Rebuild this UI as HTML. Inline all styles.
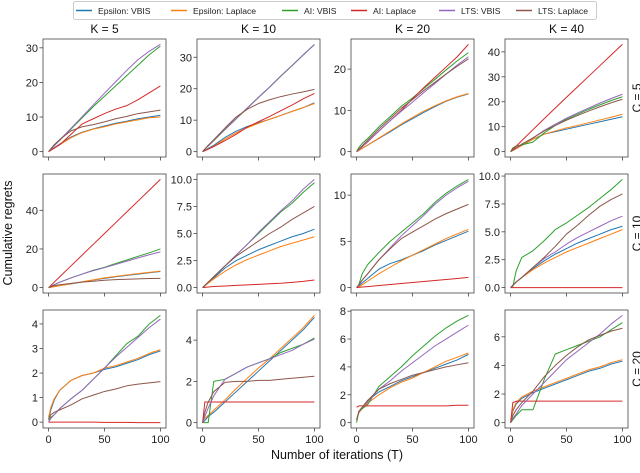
<!DOCTYPE html>
<html><head><meta charset="utf-8"><style>
body{margin:0;background:#fff;}
svg{font-family:"Liberation Sans","DejaVu Sans",sans-serif;}
</style></head><body>
<svg id="c" width="640" height="468" xmlns="http://www.w3.org/2000/svg"></svg>
<script>
const xs = [0,2,5,10,20,30,40,50,60,70,80,90,100];
const seriesNames = ["Epsilon: VBIS","Epsilon: Laplace","AI: VBIS","AI: Laplace","LTS: VBIS","LTS: Laplace"];
const colTitles = ["K = 5","K = 10","K = 20","K = 40"];
const rowTitles = ["C = 5","C = 10","C = 20"];
const xTicks = [0,50,100];
const yTicks = [
 [0,10,20,30],[0,10,20,30],[0,10,20],[0,10,20,30,40],
 [0,20,40],[0,2.5,5,7.5,10],[0,5,10],[0,2.5,5,7.5,10],
 [0,1,2,3,4],[0,2,4],[0,2,4,6,8],[0,2,4,6]
];
const yTickDecimals = [0,0,0,0, 0,1,0,1, 0,0,0,0];
const p11 = [[0,0.5,1.1,2.2,4.2,5.6,6.6,7.4,8.2,8.8,9.5,10,10.5],[0,0.4,1,2,4,5.5,6.5,7.2,8,8.6,9.2,9.8,10],[0,0.7,1.7,3.3,6.5,9.8,13,16,19,22,25,28,30.5],[0,0.4,1,2,5,8,9.5,11,12.3,13.3,15,17,19],[0,0.7,1.7,3.4,6.7,10.1,13.5,16.9,20.2,23.5,26.6,29,31],[0,0.8,2,3.5,6,7.2,7.8,8.6,9.5,10.2,11,11.5,12]];
const p12 = [[0,0.4,1,2,4.5,6.5,8,9.2,10.3,11.5,12.8,14,15.5],[0,0.3,0.8,1.7,4,6,7.6,9,10.3,11.5,12.8,14,15.3],[0,0.8,1.8,3.5,7,10.4,13.8,17.2,20.5,24,27.3,30.7,34],[0,0.3,0.8,1.6,3.5,5.5,7.8,9.5,11.2,13,14.8,16.8,18.5],[0,0.8,1.8,3.6,7.1,10.5,13.9,17.3,20.6,24.1,27.4,30.8,34.1],[0,0.8,2,3.8,7.5,11,13.5,15.3,16.5,17.5,18.3,19,19.8]];
const p13 = [[0,0.3,0.8,1.6,3.2,4.8,6.5,8,9.5,10.9,12.2,13.2,14],[0,0.3,0.8,1.6,3.3,5,6.7,8.3,9.8,11.1,12.3,13.3,14.1],[0,1,2,3.2,6,8.5,11,13,15.3,17.5,19.8,22,24],[0,0.5,1.2,2.4,5,7.5,10,12.8,15.5,18,20.5,23,26],[0,0.5,1.2,2.5,5,7.5,9.8,12,14.3,16.5,18.8,21,23],[0,0.6,1.4,2.8,5.5,8,10.5,12.6,14.8,16.8,18.8,20.7,22.5]];
const p14 = [[0,0.5,1.2,2.5,5,7,8,9,10,11,12,13,14],[0,0.5,1.2,2.5,5,7,8.3,9.5,10.5,11.6,12.7,13.8,15],[0,1.5,2.3,2.7,3.8,7.5,10.5,13,15,17,18.8,20.5,22],[0,0.9,2.2,4.4,8.8,13.2,17.5,21.8,26,30.3,34.5,38.8,43],[0,0.6,1.5,3,5.5,8.5,11,13.4,15.5,17.5,19.5,21.3,23],[0,0.6,1.5,3,5.5,8.3,10.5,12.6,14.5,16.3,18,19.6,21]];
const p21 = [[0,0.2,0.5,1,1.9,2.9,3.9,4.8,5.6,6.3,7,7.7,8.3],[0,0.2,0.5,1,2,3,4,5,5.8,6.5,7.2,7.9,8.5],[0,0.6,1.5,2.8,5,7,9,10.5,12.5,14.3,16.2,18,20],[0,1.1,2.8,5.6,11.2,16.8,22.4,28,33.6,39.2,44.8,50.4,56],[0,0.6,1.5,2.8,5,7,8.8,10.3,12,13.7,15.4,17,18.5],[0,0.5,1,1.5,2.2,2.8,3.3,3.8,4.1,4.3,4.5,4.7,4.8]];
const p22 = [[0,0.2,0.5,0.9,1.8,2.5,3,3.5,3.9,4.3,4.7,5,5.4],[0,0.15,0.4,0.8,1.5,2.1,2.6,3,3.4,3.8,4.1,4.4,4.7],[0,0.2,0.5,1,2,3,4,5,6,7,7.8,8.8,9.7],[0,0.02,0.05,0.1,0.15,0.2,0.25,0.3,0.35,0.4,0.48,0.57,0.7],[0,0.2,0.5,1,2,3,4,5.1,6.1,7.1,8,9.1,10],[0,0.2,0.5,1,2,2.9,3.6,4.3,5,5.6,6.3,6.9,7.5]];
const p23 = [[0,0.2,0.5,1,2,2.6,3,3.5,4,4.6,5.1,5.6,6.1],[0,0.1,0.3,0.7,1.5,2.2,2.9,3.5,4.1,4.7,5.3,5.8,6.3],[0,0.3,1.5,2.5,3.8,5,6,7,8,9.2,10.2,11,11.7],[0,0.02,0.06,0.11,0.22,0.33,0.44,0.55,0.66,0.77,0.88,0.99,1.1],[0,0.3,0.8,1.5,3,4.3,5.6,6.7,7.8,9,10,10.8,11.5],[0,0.3,0.8,1.5,3,4.2,5.3,6,6.7,7.4,8,8.5,9]];
const p24 = [[0,0.2,0.5,0.9,1.7,2.4,3,3.5,4,4.4,4.8,5.2,5.5],[0,0.2,0.5,0.9,1.6,2.2,2.7,3.2,3.6,4,4.4,4.8,5.2],[0,0.1,1.5,2.7,3.3,4.2,5.2,5.8,6.5,7.2,8,8.8,9.7],[0,0,0,0,0,0,0,0,0,0,0,0,0],[0,0.2,0.5,0.9,1.8,2.6,3.2,3.9,4.5,5,5.5,6,6.4],[0,0.2,0.5,0.9,1.8,2.7,3.7,4.8,5.6,6.5,7.3,7.9,8.4]];
const p31 = [[0.1,0.5,0.9,1.3,1.7,1.9,2.0,2.15,2.25,2.4,2.55,2.75,2.9],[0.2,0.6,0.95,1.3,1.7,1.9,2.0,2.2,2.3,2.45,2.6,2.8,2.95],[0,0.2,0.3,0.55,0.95,1.3,1.75,2.2,2.7,3.2,3.5,4,4.35],[0,0,0,0,0,0,0,-0.01,-0.01,-0.01,-0.02,-0.02,-0.02],[0,0.15,0.3,0.55,0.95,1.3,1.75,2.2,2.65,3.05,3.45,3.85,4.2],[0.1,0.3,0.4,0.5,0.7,0.95,1.1,1.25,1.35,1.48,1.55,1.6,1.65]];
const p32 = [[0,0.1,0.3,0.5,1,1.5,2,2.5,3,3.5,4,4.5,5.1],[0.1,0.2,0.35,0.6,1.1,1.65,2.15,2.65,3.1,3.6,4.1,4.6,5.2],[0,0,0,2.0,2.1,2.4,2.7,2.9,3.1,3.4,3.6,3.8,4.1],[0,1,1,1,1,1,1,1,1,1,1,1,1],[0,0.3,0.7,1.3,2.1,2.4,2.7,2.9,3.1,3.3,3.5,3.8,4.05],[0,0.5,1,1.5,1.95,2.0,2.0,2.05,2.05,2.1,2.15,2.2,2.25]];
const p33 = [[0.2,0.7,1.1,1.6,2.2,2.6,3.0,3.3,3.6,3.9,4.2,4.5,4.9],[0.2,0.7,1,1.4,2,2.5,2.9,3.2,3.6,4,4.4,4.7,5],[0,0.8,1,1.3,2.6,3.3,4,4.8,5.5,6.2,6.8,7.3,7.7],[1.1,1.2,1.2,1.2,1.2,1.2,1.2,1.2,1.2,1.2,1.2,1.25,1.25],[0.2,0.8,1.1,1.5,2.4,3,3.7,4.3,4.9,5.5,6,6.5,7],[0.2,0.8,1.1,1.6,2.4,2.8,3.1,3.4,3.6,3.8,4,4.15,4.3]];
const p34 = [[0,0.8,1.3,1.7,2.1,2.4,2.7,3,3.3,3.6,3.8,4.1,4.3],[0,0.9,1.4,1.8,2.2,2.5,2.8,3.1,3.4,3.7,3.9,4.2,4.4],[0,0.2,0.5,0.9,0.9,3.0,4.8,5.1,5.4,5.7,6,6.5,7],[0,1.4,1.5,1.5,1.5,1.5,1.5,1.5,1.5,1.5,1.5,1.5,1.5],[0,0.3,0.6,1.2,2,2.8,3.6,4.4,5,5.6,6.2,6.9,7.5],[0,0.5,0.9,1.4,2.2,3.2,4,4.7,5.3,5.8,6.1,6.4,6.6]];
const panels = [p11,p12,p13,p14,p21,p22,p23,p24,p31,p32,p33,p34];

const colors = ["#1f77b4","#ff7f0e","#2ca02c","#d62728","#9467bd","#8c564b"];
const colLeft = [43,197,351,505], boxW = 123;
const rowTop = [39,174,310], rowBot = [157,293,428];
const svg = document.getElementById('c');
const NS = "http://www.w3.org/2000/svg";
function mk(tag, attrs, parent){ const e=document.createElementNS(NS,tag); for(const k in attrs) e.setAttribute(k,attrs[k]); (parent||svg).appendChild(e); return e; }

const lg = mk('g',{});


mk('rect',{x:73.5,y:1.5,width:523,height:18,fill:'#fff',stroke:'#ccc','stroke-width':1,rx:2},lg);
const legX = [76,171,282,351,439,516];
seriesNames.forEach((n,i)=>{
  const g = mk('g',{},lg);
  
  
  mk('line',{x1:legX[i],x2:legX[i]+16,y1:10.5,y2:10.5,stroke:colors[i],'stroke-width':1.5},g);
  const t = mk('text',{x:legX[i]+22,y:14,'font-size':8.6,fill:'#222'},g); t.textContent=n;
});

panels.forEach((data,pi)=>{
  const r = Math.floor(pi/4), c = pi%4;
  const L = colLeft[c], R = L+boxW, T = rowTop[r], B = rowBot[r];
  const g = mk('g',{});
  
  
  let mn=Infinity, mx=-Infinity;
  data.forEach(s=>s.forEach(v=>{mn=Math.min(mn,v);mx=Math.max(mx,v);}));
  const pad=(mx-mn)*0.05; const y0=mn-pad, y1=mx+pad;
  const sx = x => L + (x+5)/110*boxW;
  const sy = y => B - (y-y0)/(y1-y0)*(B-T);
  mk('rect',{x:L,y:T,width:boxW,height:B-T,fill:'#fff',stroke:'#444','stroke-width':0.8},g);
  yTicks[pi].forEach(v=>{
    const y=sy(v);
    mk('line',{x1:L-3.5,x2:L,y1:y,y2:y,stroke:'#444','stroke-width':0.8},g);
    const t=mk('text',{x:L-5,y:y+4,'font-size':11,'text-anchor':'end',fill:'#222'},g);
    t.textContent=v.toFixed(yTickDecimals[pi]);
  });
  xTicks.forEach(v=>{
    const x=sx(v);
    mk('line',{x1:x,x2:x,y1:B,y2:B+3.5,stroke:'#444','stroke-width':0.8},g);
    if(r===2){ const t=mk('text',{x:x,y:B+15,'font-size':11,'text-anchor':'middle',fill:'#222'},g); t.textContent=v; }
  });
  data.forEach((s,si)=>{
    const pts = s.map((v,i)=>sx(xs[i]).toFixed(2)+','+sy(v).toFixed(2)).join(' ');
    const pl = mk('polyline',{points:pts,fill:'none',stroke:colors[si],'stroke-width':1,'stroke-linejoin':'round'},g);
    
    
  });
  if(r===0){ const t=mk('text',{x:(L+R)/2,y:33,'font-size':12,'text-anchor':'middle',fill:'#111'},g); t.textContent=colTitles[c];
      }
  if(c===3){ const cy=(T+B)/2; const t=mk('text',{x:641,y:cy,'font-size':12,'text-anchor':'middle',fill:'#111',transform:'rotate(-90 641 '+cy+')'},g); t.textContent=rowTitles[r];
      }
});
const yl = mk('text',{x:12,y:233,'font-size':12.5,'text-anchor':'middle',fill:'#111',transform:'rotate(-90 12 233)'});
yl.textContent='Cumulative regrets';


const xl = mk('text',{x:337,y:459,'font-size':12.5,'text-anchor':'middle',fill:'#111'});
xl.textContent='Number of iterations (T)';


</script>
</body></html>
